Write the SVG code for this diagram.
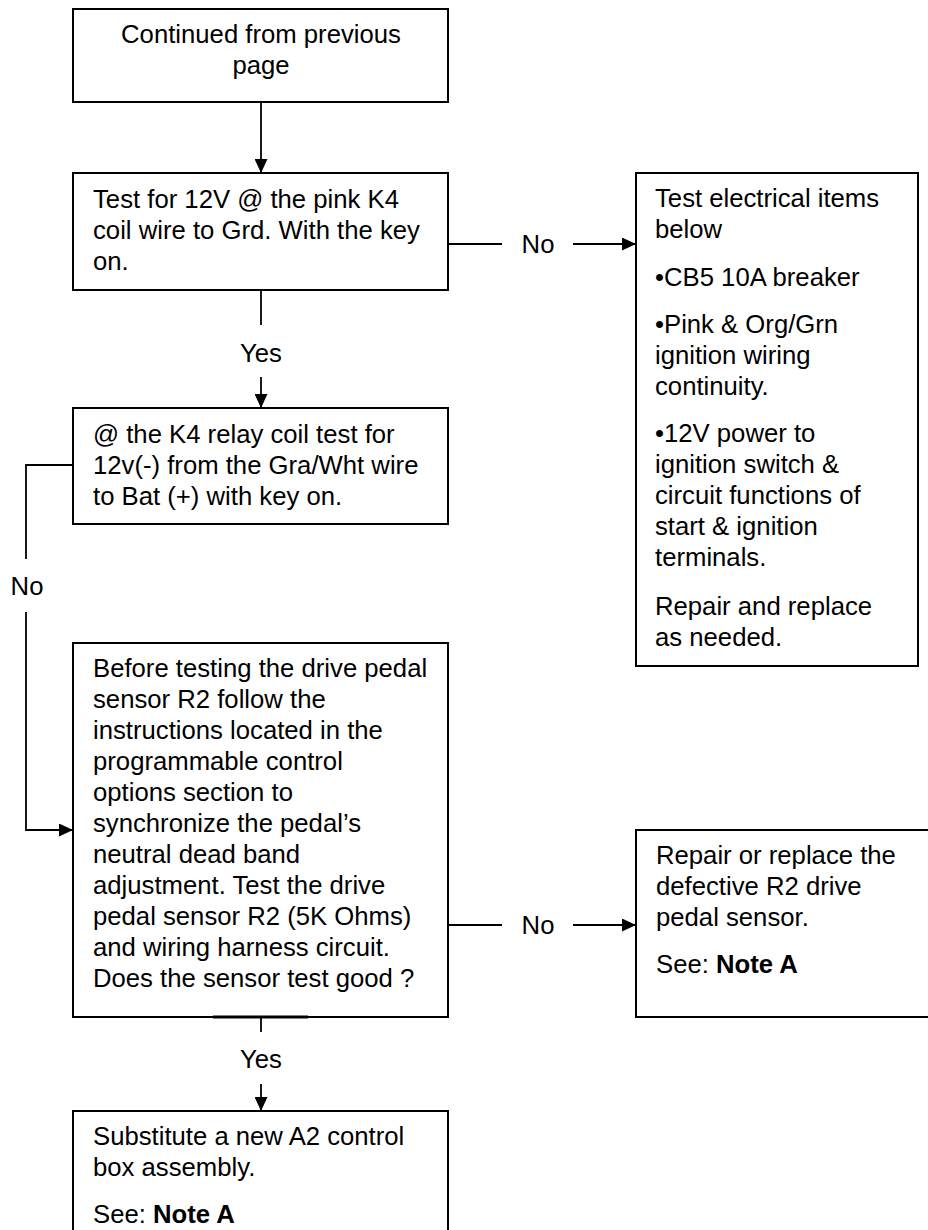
<svg xmlns="http://www.w3.org/2000/svg" width="928" height="1230" viewBox="0 0 928 1230">
<style>
  .box{fill:#fff;stroke:#000;stroke-width:2}
  .ln{fill:none;stroke:#000;stroke-width:1.8}
  text{font-family:"Liberation Sans",Arial,sans-serif;font-size:25.7px;fill:#000}
  .c{text-anchor:middle}
  .b{font-weight:bold}
</style>
<defs>
  <marker id="ah" viewBox="0 0 14 13" refX="14" refY="6.5" markerWidth="14" markerHeight="13" markerUnits="userSpaceOnUse" orient="auto">
    <path d="M0,0 L14,6.5 L0,13 Z" fill="#000"/>
  </marker>
</defs>
<rect width="928" height="1230" fill="#fff"/>

<g id="connectors">
  <line class="ln" x1="261" y1="102" x2="261" y2="173" marker-end="url(#ah)"/>
  <line class="ln" x1="448" y1="244" x2="502" y2="244"/>
  <line class="ln" x1="573" y1="244" x2="636" y2="244" marker-end="url(#ah)"/>
  <line class="ln" x1="261" y1="290" x2="261" y2="325"/>
  <line class="ln" x1="261" y1="377" x2="261" y2="408" marker-end="url(#ah)"/>
  <polyline class="ln" points="73,465 26,465 26,559"/>
  <polyline class="ln" points="26,612 26,830 73,830" marker-end="url(#ah)"/>
  <line class="ln" x1="448" y1="925" x2="502" y2="925"/>
  <line class="ln" x1="573" y1="925" x2="636" y2="925" marker-end="url(#ah)"/>
  <line class="ln" x1="261" y1="1017" x2="261" y2="1032"/>
  <line class="ln" x1="261" y1="1084" x2="261" y2="1111" marker-end="url(#ah)"/>
  <text x="538" y="253" class="c">No</text>
  <text x="261" y="362" class="c">Yes</text>
  <text x="27" y="595" class="c">No</text>
  <text x="538" y="934" class="c">No</text>
  <text x="261" y="1068" class="c">Yes</text>
</g>

<g id="n1">
  <rect class="box" x="73" y="9" width="375" height="93"/>
  <text x="261" y="43" class="c">Continued from previous</text>
  <text x="261" y="74" class="c">page</text>
</g>

<g id="n2">
  <rect class="box" x="73" y="173" width="375" height="117"/>
  <text x="93" y="208">Test for 12V @ the pink K4</text>
  <text x="93" y="239">coil wire to Grd. With the key</text>
  <text x="93" y="270">on.</text>
</g>

<g id="n3">
  <rect class="box" x="636" y="173" width="282" height="493"/>
  <text x="655" y="207">Test electrical items</text>
  <text x="655" y="238">below</text>
  <text x="655" y="286">•CB5 10A breaker</text>
  <text x="655" y="333">•Pink &amp; Org/Grn</text>
  <text x="655" y="364">ignition wiring</text>
  <text x="655" y="395">continuity.</text>
  <text x="655" y="442">•12V power to</text>
  <text x="655" y="473">ignition switch &amp;</text>
  <text x="655" y="504">circuit functions of</text>
  <text x="655" y="535">start &amp; ignition</text>
  <text x="655" y="566">terminals.</text>
  <text x="655" y="615">Repair and replace</text>
  <text x="655" y="646">as needed.</text>
</g>

<g id="n4">
  <rect class="box" x="73" y="408" width="375" height="116"/>
  <text x="93" y="443">@ the K4 relay coil test for</text>
  <text x="93" y="474">12v(-) from the Gra/Wht wire</text>
  <text x="93" y="505">to Bat (+) with key on.</text>
</g>

<g id="n5">
  <rect class="box" x="73" y="643" width="375" height="374"/>
  <line x1="213" y1="1017" x2="308" y2="1017" stroke="#000" stroke-width="3"/>
  <text x="93" y="677">Before testing the drive pedal</text>
  <text x="93" y="708">sensor R2 follow the</text>
  <text x="93" y="739">instructions located in the</text>
  <text x="93" y="770">programmable control</text>
  <text x="93" y="801">options section to</text>
  <text x="93" y="832">synchronize the pedal’s</text>
  <text x="93" y="863">neutral dead band</text>
  <text x="93" y="894">adjustment. Test the drive</text>
  <text x="93" y="925">pedal sensor R2 (5K Ohms)</text>
  <text x="93" y="956">and wiring harness circuit.</text>
  <text x="93" y="987">Does the sensor test good ?</text>
</g>

<g id="n6">
  <rect class="box" x="636" y="830" width="300" height="187"/>
  <text x="656" y="864">Repair or replace the</text>
  <text x="656" y="895">defective R2 drive</text>
  <text x="656" y="926">pedal sensor.</text>
  <text x="656" y="973">See: <tspan class="b">Note A</tspan></text>
</g>

<g id="n7">
  <rect class="box" x="73" y="1111" width="375" height="130"/>
  <text x="93" y="1145">Substitute a new A2 control</text>
  <text x="93" y="1176">box assembly.</text>
  <text x="93" y="1223">See: <tspan class="b">Note A</tspan></text>
</g>
</svg>
